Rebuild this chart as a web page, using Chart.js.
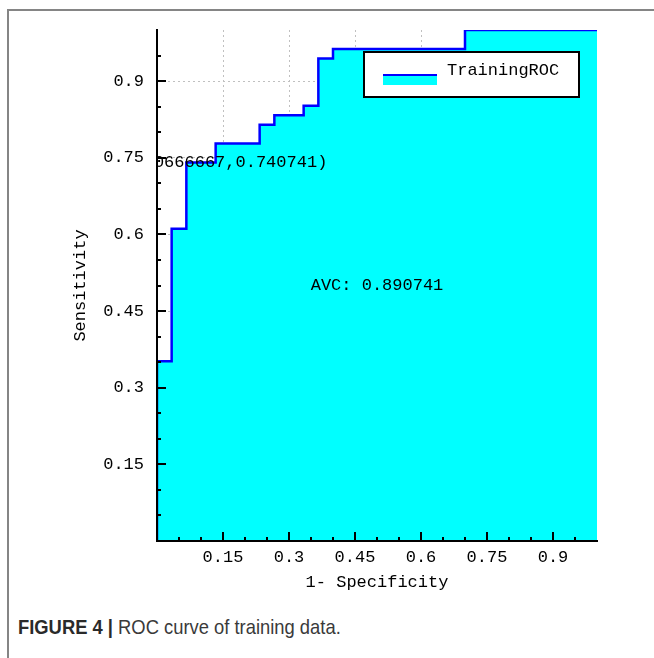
<!DOCTYPE html>
<html>
<head>
<meta charset="utf-8">
<script src="https://cdn.jsdelivr.net/npm/chart.js@4/dist/chart.umd.min.js"></script>
<style>
  html, body { margin: 0; padding: 0; background: #fff; overflow: hidden; }
  #frame { position: absolute; left: 7px; top: 9px; width: 700px; height: 700px;
           border-left: 2px solid #858585; border-top: 2px solid #858585; }
  #rocChart { position: absolute; left: 0; top: 0; }
  #caption { position: absolute; left: 18px; top: 616px; font-family: "Liberation Sans", Arial, sans-serif;
             font-size: 21px; line-height: 21px; color: #3a3a3a; white-space: nowrap;
             transform: scaleX(0.875); transform-origin: left top; }
  #caption b { color: #2a2a2a; }
</style>
</head>
<body>
<div id="frame"></div>
<canvas id="rocChart" width="654" height="610"></canvas>
<div id="caption"><b>FIGURE 4 |</b> ROC curve of training data.</div>

<script>
// ROC points of the training set (1 - specificity, sensitivity)
var fpr = [0, 0, 0.0333, 0.0333, 0.0667, 0.0667, 0.1333, 0.1333, 0.2333, 0.2333, 0.2667,
           0.2667, 0.3333, 0.3333, 0.3667, 0.3667, 0.4, 0.4, 0.7, 0.7, 1];
var tpr = [0, 0.3519, 0.3519, 0.6111, 0.6111, 0.7407, 0.7407, 0.7778, 0.7778, 0.8148, 0.8148,
           0.8333, 0.8333, 0.8519, 0.8519, 0.9444, 0.9444, 0.963, 0.963, 1, 1];

var tickValues = [0.15, 0.3, 0.45, 0.6, 0.75, 0.9];
var minorTicks = [0.05, 0.1, 0.15, 0.2, 0.25, 0.3, 0.35, 0.4, 0.45, 0.5, 0.55, 0.6, 0.65,
                  0.7, 0.75, 0.8, 0.85, 0.9, 0.95];

var seriesName = "TrainingROC";
var pointLabel = "(0.0666667,0.740741)";
var pointAt = [0.0666667, 0.740741];
var aucLabel = "AVC: 0.890741";
var aucAt = [0.5, 0.5];

var mono = "Liberation Mono, DejaVu Sans Mono, monospace";
var monoFont = { family: mono, size: 17 };

var points = [];
for (var i = 0; i < fpr.length; i++) {
    points.push({ x: fpr[i], y: tpr[i] });
}

function isMajor(v) {
    for (var k = 0; k < tickValues.length; k++) {
        if (Math.abs(tickValues[k] - v) < 1e-6) return true;
    }
    return false;
}

var rocDecor = {
    id: "rocDecor",
    afterDatasetsDraw: function (chart) {
        var ctx = chart.ctx;
        var a = chart.chartArea;
        var xs = chart.scales.x, ys = chart.scales.y;

        ctx.save();
        // tick marks point into the plot
        ctx.strokeStyle = "#000";
        ctx.lineWidth = 2;
        ctx.beginPath();
        for (var i = 0; i < minorTicks.length; i++) {
            var v = minorTicks[i];
            var len = isMajor(v) ? 9 : 4;
            var px = Math.round(xs.getPixelForValue(v));
            ctx.moveTo(px, a.bottom);
            ctx.lineTo(px, a.bottom - len);
            var py = Math.round(ys.getPixelForValue(v));
            ctx.moveTo(a.left, py);
            ctx.lineTo(a.left + len, py);
        }
        ctx.stroke();

        // labels inside the plot, clipped at the axes
        ctx.save();
        ctx.beginPath();
        ctx.rect(a.left, a.top, a.right - a.left, a.bottom - a.top);
        ctx.clip();
        ctx.font = "17px " + mono;
        ctx.fillStyle = "#000";
        ctx.textBaseline = "middle";
        ctx.textAlign = "right";
        ctx.fillText(pointLabel, xs.getPixelForValue(pointAt[0]) + 141, ys.getPixelForValue(pointAt[1]));
        ctx.textAlign = "center";
        ctx.fillText(aucLabel, xs.getPixelForValue(aucAt[0]), ys.getPixelForValue(aucAt[1]));
        ctx.restore();

        // legend box
        var ds = chart.data.datasets[0];
        var bx = a.right - 233, by = a.top + 22, bw = 215, bh = 45;
        ctx.fillStyle = "#fff";
        ctx.fillRect(bx, by, bw, bh);
        ctx.strokeStyle = "#000";
        ctx.lineWidth = 2;
        ctx.strokeRect(bx, by, bw, bh);
        ctx.fillStyle = ds.backgroundColor;
        ctx.fillRect(bx + 19, by + 23, 54, 10);
        ctx.strokeStyle = ds.borderColor;
        ctx.beginPath();
        ctx.moveTo(bx + 19, by + 23);
        ctx.lineTo(bx + 73, by + 23);
        ctx.stroke();
        ctx.fillStyle = "#000";
        ctx.textAlign = "left";
        ctx.textBaseline = "middle";
        ctx.fillText(ds.label, bx + 83, by + 18);
        ctx.restore();
    }
};

new Chart("rocChart", {
    type: "line",
    data: {
        datasets: [{
            label: seriesName,
            data: points,
            borderColor: "#0000ff",
            backgroundColor: "#00ffff",
            borderWidth: 2.5,
            fill: "origin",
            pointRadius: 0,
            tension: 0
        }]
    },
    options: {
        responsive: false,
        animation: false,
        layout: { padding: { left: 0, right: 57, top: 30, bottom: 0 } },
        plugins: {
            legend: { display: false },
            tooltip: { enabled: false }
        },
        scales: {
            x: {
                type: "linear",
                min: 0,
                max: 1,
                afterBuildTicks: function (s) {
                    s.ticks = tickValues.map(function (v) { return { value: v }; });
                },
                afterFit: function (s) { s.height = 69; },
                grid: { color: "#c0c0c0", lineWidth: 1, drawTicks: false },
                border: { display: true, color: "#000", width: 2, dash: [2, 3], z: 1 },
                ticks: {
                    padding: 6,
                    color: "#000",
                    font: monoFont,
                    maxRotation: 0,
                    callback: function (v) { return v; }
                },
                title: {
                    display: true,
                    text: "1- Specificity",
                    color: "#000",
                    font: monoFont,
                    padding: { top: 0, bottom: 17 }
                }
            },
            y: {
                min: 0,
                max: 1,
                afterBuildTicks: function (s) {
                    s.ticks = tickValues.map(function (v) { return { value: v }; });
                },
                afterFit: function (s) { s.width = 157; },
                grid: { color: "#c0c0c0", lineWidth: 1, drawTicks: false },
                border: { display: true, color: "#000", width: 2, dash: [2, 3], z: 1 },
                ticks: {
                    padding: 13,
                    color: "#000",
                    font: monoFont,
                    callback: function (v) { return v; }
                },
                title: {
                    display: true,
                    text: "Sensitivity",
                    color: "#000",
                    font: monoFont,
                    padding: { top: 70, bottom: 0 }
                }
            }
        }
    },
    plugins: [rocDecor]
});
</script>
</body>
</html>
